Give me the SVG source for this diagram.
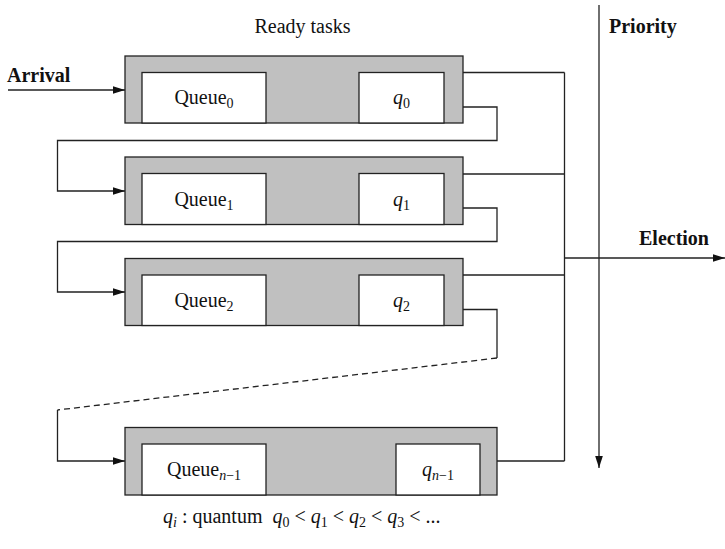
<svg xmlns="http://www.w3.org/2000/svg" width="725" height="549" viewBox="0 0 725 549">
<style>
text{font-family:"Liberation Serif","Times New Roman",serif;font-size:20px;fill:#111}
.b{font-weight:bold}
.i{font-style:italic}
.sub{font-size:14px}
.outer{fill:#c0c0c0;stroke:#222;stroke-width:1.3}
.inner{fill:#fff;stroke:#222;stroke-width:1.3}
.ln{fill:none;stroke:#222;stroke-width:1.3}
.dash{fill:none;stroke:#222;stroke-width:1.3;stroke-dasharray:6,4}
</style>
<defs>
<marker id="ah" markerUnits="userSpaceOnUse" markerWidth="14" markerHeight="10" refX="12" refY="5" orient="auto">
<path d="M0,1.2 L12,5 L0,8.8 Z" fill="#111"/>
</marker>
</defs>
<rect width="725" height="549" fill="#fff"/>
<text x="302.5" y="33" text-anchor="middle">Ready tasks</text>
<text class="b" x="7" y="82">Arrival</text>
<text class="b" x="609" y="33">Priority</text>
<text class="b" x="639" y="245">Election</text>

<g id="connectors">
<path class="ln" d="M8,90 H125" marker-end="url(#ah)"/>
<path class="ln" d="M463,72.5 H564.5 M463,174 H564.5 M463,275 H564.5 M497,461 H564.5 M564.5,72.5 V461"/>
<path class="ln" d="M564.5,258 H725" marker-end="url(#ah)"/>
<path class="ln" d="M599,5 V468" marker-end="url(#ah)"/>
<path class="ln" d="M463,107 H497 V140.5 H57.5 V191 H125" marker-end="url(#ah)"/>
<path class="ln" d="M463,208 H497 V241.5 H57.5 V292 H125" marker-end="url(#ah)"/>
<path class="ln" d="M463,309.5 H497 V358"/>
<path class="dash" d="M497,358 L57.5,410"/>
<path class="ln" d="M57.5,410 V461 H125" marker-end="url(#ah)"/>
</g>

<g id="queue0">
<rect class="outer" x="125" y="56" width="338" height="67"/>
<rect class="inner" x="142" y="72.5" width="124" height="50.5"/>
<rect class="inner" x="359" y="72.5" width="85" height="50.5"/>
<text x="204" y="104" text-anchor="middle">Queue<tspan class="sub" dy="4">0</tspan></text>
<text x="401.5" y="104" text-anchor="middle"><tspan class="i">q</tspan><tspan class="sub" dy="4">0</tspan></text>
</g>

<g id="queue1">
<rect class="outer" x="125" y="157" width="338" height="67.5"/>
<rect class="inner" x="142" y="173.5" width="124" height="51"/>
<rect class="inner" x="359" y="173.5" width="85" height="51"/>
<text x="204" y="205.5" text-anchor="middle">Queue<tspan class="sub" dy="4">1</tspan></text>
<text x="401.5" y="205.5" text-anchor="middle"><tspan class="i">q</tspan><tspan class="sub" dy="4">1</tspan></text>
</g>

<g id="queue2">
<rect class="outer" x="125" y="258.5" width="338" height="67"/>
<rect class="inner" x="142" y="275" width="124" height="50.5"/>
<rect class="inner" x="359" y="275" width="85" height="50.5"/>
<text x="204" y="306.5" text-anchor="middle">Queue<tspan class="sub" dy="4">2</tspan></text>
<text x="401.5" y="306.5" text-anchor="middle"><tspan class="i">q</tspan><tspan class="sub" dy="4">2</tspan></text>
</g>

<g id="queuen1">
<rect class="outer" x="125" y="427.5" width="372" height="67.5"/>
<rect class="inner" x="142" y="444" width="124" height="51"/>
<rect class="inner" x="396" y="444" width="84" height="51"/>
<text x="204" y="476" text-anchor="middle">Queue<tspan class="sub i" dy="4">n</tspan><tspan class="sub">−1</tspan></text>
<text x="438" y="476" text-anchor="middle"><tspan class="i">q</tspan><tspan class="sub i" dy="4">n</tspan><tspan class="sub">−1</tspan></text>
</g>

<text x="163" y="523" xml:space="preserve"><tspan class="i">q</tspan><tspan class="sub i" dy="4">i</tspan><tspan dy="-4"> : quantum  </tspan><tspan class="i">q</tspan><tspan class="sub" dy="4">0</tspan><tspan dy="-4"> &lt; </tspan><tspan class="i">q</tspan><tspan class="sub" dy="4">1</tspan><tspan dy="-4"> &lt; </tspan><tspan class="i">q</tspan><tspan class="sub" dy="4">2</tspan><tspan dy="-4"> &lt; </tspan><tspan class="i">q</tspan><tspan class="sub" dy="4">3</tspan><tspan dy="-4"> &lt; ...</tspan></text>
</svg>
